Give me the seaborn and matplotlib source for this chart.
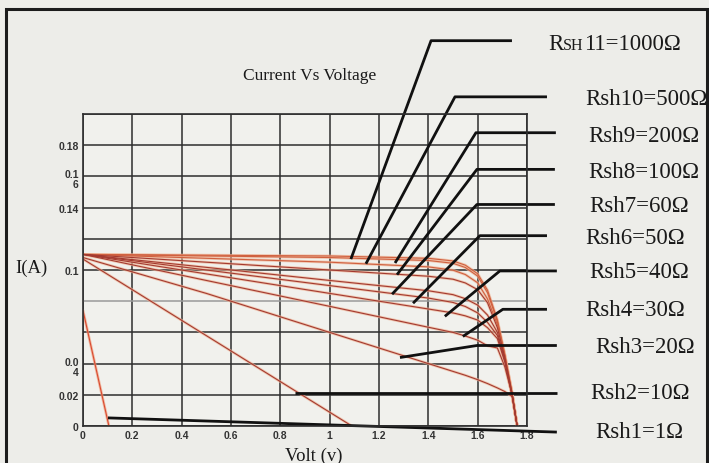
import matplotlib
matplotlib.use("Agg")
import pandas as pd
import matplotlib.pyplot as plt
import seaborn as sns
from matplotlib.offsetbox import TextArea, HPacker, AnnotationBbox
from matplotlib.patches import Rectangle

# Valores (V, A)
volt = [0.0, 0.5, 1.0, 1.4, 1.5, 1.55, 1.6, 1.64, 1.68, 1.71, 1.74, 1.76]
i_rsh11 = [0.110, 0.1095, 0.109, 0.1075, 0.1058, 0.1031, 0.0976, 0.0870, 0.0680, 0.0460, 0.0210, 0.0]
i_rsh10 = [0.110, 0.109, 0.108, 0.1061, 0.1043, 0.1016, 0.0961, 0.0854, 0.0670, 0.0455, 0.0210, 0.0]
i_rsh9 = [0.110, 0.1075, 0.105, 0.102, 0.0999, 0.0971, 0.0918, 0.0814, 0.0650, 0.0450, 0.0200, 0.0]
i_rsh8 = [0.110, 0.105, 0.100, 0.096, 0.0941, 0.0917, 0.0874, 0.0790, 0.0630, 0.0440, 0.0200, 0.0]
i_rsh7 = [0.110, 0.1017, 0.0933, 0.0867, 0.0842, 0.0816, 0.0775, 0.0711, 0.0600, 0.0430, 0.0200, 0.0]
i_rsh6 = [0.110, 0.100, 0.090, 0.082, 0.0792, 0.0766, 0.0725, 0.0664, 0.0580, 0.0420, 0.0190, 0.0]
i_rsh5 = [0.110, 0.0975, 0.085, 0.075, 0.0725, 0.0706, 0.0679, 0.0630, 0.0560, 0.0410, 0.0190, 0.0]
i_rsh4 = [0.110, 0.0933, 0.0767, 0.0633, 0.060, 0.0577, 0.055, 0.0514, 0.0500, 0.0380, 0.0200, 0.0]
i_rsh3 = [0.108, 0.085, 0.060, 0.040, 0.035, 0.0325, 0.0297, 0.0272, 0.0244, 0.0221, 0.0189, 0.0]
volt_rsh2 = [0.0, 1.09]
i_rsh2 = [0.107, 0.0]
volt_rsh1 = [0.0, 0.105]
i_rsh1 = [0.074, 0.0]

curve_names = ["Rsh11", "Rsh10", "Rsh9", "Rsh8", "Rsh7", "Rsh6",
               "Rsh5", "Rsh4", "Rsh3", "Rsh2", "Rsh1"]
curve_currents = [i_rsh11, i_rsh10, i_rsh9, i_rsh8, i_rsh7, i_rsh6,
                  i_rsh5, i_rsh4, i_rsh3, i_rsh2, i_rsh1]
label_texts = ["11=1000Ω", "Rsh10=500Ω", "Rsh9=200Ω", "Rsh8=100Ω", "Rsh7=60Ω",
               "Rsh6=50Ω", "Rsh5=40Ω", "Rsh4=30Ω", "Rsh3=20Ω", "Rsh2=10Ω", "Rsh1=1Ω"]

x_ticks = [0, 0.2, 0.4, 0.6, 0.8, 1.0, 1.2, 1.4, 1.6, 1.8]
x_ticklabels = ["0", "0.2", "0.4", "0.6", "0.8", "1", "1.2", "1.4", "1.6", "1.8"]
y_ticks = [0, 0.02, 0.04, 0.06, 0.08, 0.10, 0.12, 0.14, 0.16, 0.18, 0.20]
y_ticklabels = ["0", "0.02", "", "", "", "0.1", "", "0.14", "", "0.18", ""]
y_split_labels = [(0.04, "0.0\n4"), (0.16, "0.1\n6")]

# Líneas guía: punto sobre la curva, codo, final horizontal (coordenadas de datos)
leaders = [
    [(1.086, 0.107), (1.411, 0.247), (1.739, 0.247)],
    [(1.147, 0.104), (1.508, 0.211), (1.881, 0.211)],
    [(1.265, 0.1045), (1.593, 0.188), (1.917, 0.188)],
    [(1.273, 0.097), (1.597, 0.1645), (1.913, 0.1645)],
    [(1.253, 0.0845), (1.597, 0.142), (1.913, 0.142)],
    [(1.338, 0.0787), (1.609, 0.122), (1.881, 0.122)],
    [(1.467, 0.0703), (1.690, 0.0994), (1.921, 0.0994)],
    [(1.540, 0.0574), (1.702, 0.0748), (1.881, 0.0748)],
    [(1.285, 0.0439), (1.597, 0.0516), (1.921, 0.0516)],
    [(0.859, 0.0213), (1.921, 0.0213)],
    [(0.101, 0.0052), (1.921, -0.0039)],
]
# Posición de las etiquetas (píxeles de la figura: x izquierda, y centro desde arriba)
label_pos = [(548, 44), (585, 100), (588, 136), (588, 172), (589, 207), (585, 238),
             (589, 273), (585, 310), (595, 348), (590, 394), (595, 433)]

W, H = 709, 464
BG = "#ededE9"

sns.set_theme(style="white")
plt.rcParams["font.family"] = ["Liberation Serif", "DejaVu Serif"]

rows = []
for name, cur in zip(curve_names, curve_currents):
    if name == "Rsh2":
        vs = volt_rsh2
    elif name == "Rsh1":
        vs = volt_rsh1
    else:
        vs = volt
    for k, (v, c) in enumerate(zip(vs, cur)):
        rows.append({"curve": name, "step": k, "volt": v, "current": c})
df = pd.DataFrame(rows)

light = {n: "#efb496" for n in curve_names}
light["Rsh1"] = "#f0a080"
dark = {n: "#a43a30" for n in curve_names}
dark["Rsh1"] = "#d94a30"
for n in ["Rsh11", "Rsh10", "Rsh9"]:
    dark[n] = "#d0603f"

fig = plt.figure(figsize=(W / 100, H / 100), dpi=100, facecolor=BG)
ax = fig.add_axes([83 / W, 1 - 427 / H, (527 - 83) / W, (427 - 115) / H])
ax.set_facecolor("#f1f1ed")

sns.lineplot(data=df, x="volt", y="current", hue="curve", palette=light,
             units="curve", estimator=None, sort=False, lw=2.0, alpha=0.7,
             legend=False, ax=ax)
sns.lineplot(data=df, x="volt", y="current", hue="curve", palette=dark,
             units="curve", estimator=None, sort=False, lw=0.8,
             legend=False, ax=ax)

ax.set_xlim(0, 1.8)
ax.set_ylim(0, 0.2)
ax.set_xticks(x_ticks)
ax.set_xticklabels(x_ticklabels)
ax.set_yticks(y_ticks)
ax.set_yticklabels(y_ticklabels)
ax.grid(True, color="#2e2e2e", lw=1.1)
ax.set_axisbelow(True)
for gl, yv in zip(ax.get_ygridlines(), y_ticks):
    if abs(yv - 0.08) < 1e-9:
        gl.set_color("#9a9a9a")
for sp in ax.spines.values():
    sp.set_color("#2e2e2e")
    sp.set_linewidth(1.2)
ax.tick_params(length=0, pad=3, labelsize=7.5, labelcolor="#333333")
for lab in ax.get_xticklabels() + ax.get_yticklabels():
    lab.set_family(["Liberation Sans", "DejaVu Sans"])
    lab.set_fontweight("bold")
ax.set_xlabel("")
ax.set_ylabel("")
for yv, txt in y_split_labels:
    ax.annotate(txt, xy=(0, yv), xycoords=("axes fraction", "data"),
                xytext=(-3, 5), textcoords="offset points", ha="right", va="top",
                fontsize=7.5, fontweight="bold", color="#333333",
                family=["Liberation Sans", "DejaVu Sans"], linespacing=1.0)

# Líneas guía
for pts in leaders:
    xs = [p[0] for p in pts]
    ys = [p[1] for p in pts]
    ax.plot(xs, ys, color="#111111", lw=2.0, clip_on=False, solid_capstyle="butt")

# Etiquetas de la derecha
lab_fs = 16.5
for i, (txt, (px, py)) in enumerate(zip(label_texts, label_pos)):
    if i == 0:
        box = HPacker(children=[TextArea("R", textprops=dict(fontsize=lab_fs, color="#1a1a1a")),
                                TextArea("SH", textprops=dict(fontsize=11.5, color="#1a1a1a")),
                                TextArea(txt, textprops=dict(fontsize=lab_fs, color="#1a1a1a"))],
                      align="baseline", pad=0, sep=0)
        ab = AnnotationBbox(box, (px / W, 1 - py / H), xycoords="figure fraction",
                            box_alignment=(0, 0.5), frameon=False, pad=0)
        fig.add_artist(ab)
    else:
        fig.text(px / W, 1 - py / H, txt, fontsize=lab_fs, color="#1a1a1a",
                 ha="left", va="center")

fig.text(310 / W, 1 - 76 / H, "Current Vs Voltage", fontsize=12.5, color="#1a1a1a",
         ha="center", va="center")
fig.text(31 / W, 1 - 268 / H, "I(A)", fontsize=13.5, color="#1a1a1a", ha="center", va="center")
fig.text(314 / W, 1 - 456 / H, "Volt (v)", fontsize=13.5, color="#1a1a1a", ha="center", va="center")

# Marco exterior
fig.add_artist(Rectangle((6 / W, -0.2), (707 - 6) / W, 1.2 - 10 / H, transform=fig.transFigure,
                         fill=False, edgecolor="#1c1c1c", lw=2.2, clip_on=False))

fig.savefig("out.png", dpi=100, facecolor=BG)
